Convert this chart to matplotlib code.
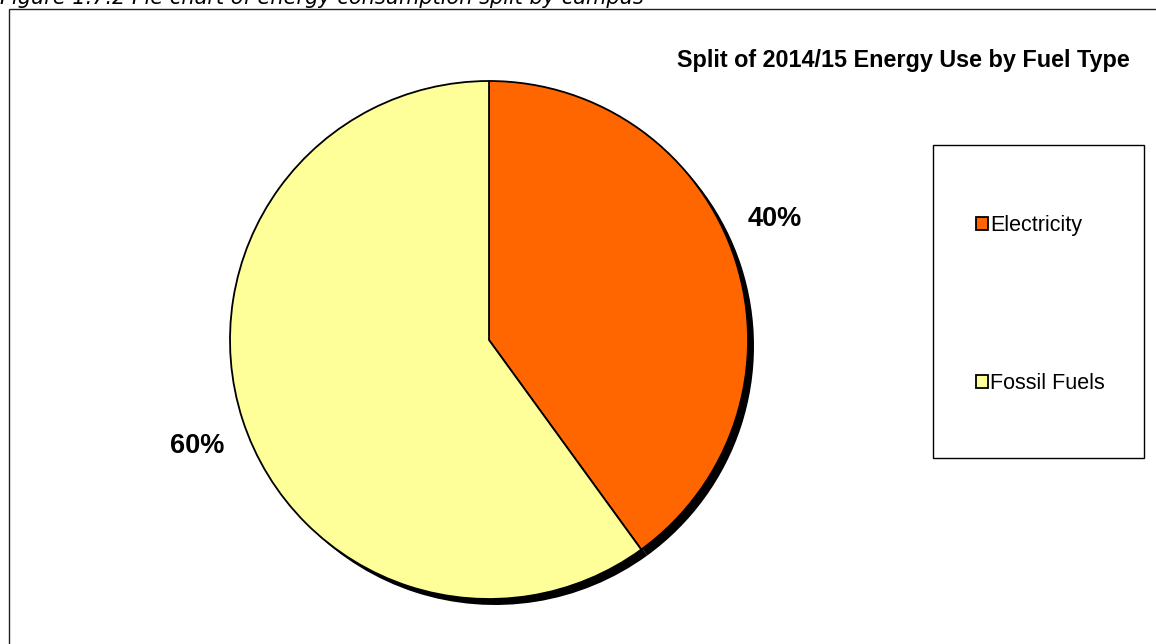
import matplotlib
matplotlib.use("Agg")
import matplotlib.pyplot as plt
from matplotlib.patches import Rectangle
from matplotlib.transforms import ScaledTranslation
import numpy as np

categories = ["Electricity", "Fossil Fuels"]
shares = [40, 60]
colors = ["#FF6600", "#FFFF99"]
title = "Split of 2014/15 Energy Use by Fuel Type"
caption = "Figure 1.7.2 Pie chart of energy consumption split by campus"

W, H = 1156, 644
fig = plt.figure(figsize=(W / 100, H / 100), dpi=100)
fig.patch.set_facecolor("white")

# outer chart frame
fig.patches.append(Rectangle((8.5 / W, -0.1), 1.2, 1 - 9 / H + 0.1, transform=fig.transFigure,
                             fill=False, edgecolor="#222222", linewidth=1.0))
fig.text(0.0, 1 - 4 / H, caption, family="DejaVu Sans", style="italic", fontsize=15,
         ha="left", va="baseline", color="black")

cx, cy, r = 489, 340, 259
ax = fig.add_axes([(cx - r) / W, (H - cy - r) / H, 2 * r / W, 2 * r / H])

# shadow
sh, _ = ax.pie(shares, colors=["black"] * 2, startangle=90, counterclock=False, radius=1,
               wedgeprops=dict(linewidth=0))
off = ScaledTranslation(6 / 100, -6 / 100, fig.dpi_scale_trans)
for w in sh:
    w.set_transform(ax.transData + off)

wedges, texts, autotexts = ax.pie(shares, colors=colors, startangle=90, counterclock=False,
                                  radius=1, autopct="%d%%", pctdistance=1.2,
                                  wedgeprops=dict(linewidth=1.3, edgecolor="black"),
                                  textprops=dict(family="Liberation Sans", fontweight="bold",
                                                 fontsize=19.5))
for t, a in zip(autotexts, (23, 200)):
    ang = np.deg2rad(a)
    t.set_position((1.2 * np.cos(ang), 1.2 * np.sin(ang)))
ax.set_xlim(-1, 1)
ax.set_ylim(-1, 1)
ax.set_aspect("auto")
ax.axis("off")

fig.text(1130 / W, 1 - 60 / H, title, family="Liberation Sans", fontweight="bold",
         fontsize=16.8, ha="right", va="center")

# legend box
lx0, ly0, lx1, ly1 = 933, 145, 1144, 458
fig.patches.append(Rectangle((lx0 / W, 1 - ly1 / H), (lx1 - lx0) / W, (ly1 - ly0) / H,
                             transform=fig.transFigure, fill=False, edgecolor="black",
                             linewidth=1.0))
leg = fig.legend(wedges, categories, loc="center left",
                 bbox_to_anchor=(965 / W, 1 - (226 + 383) / 2 / H), frameon=False,
                 prop=dict(family="Liberation Sans", size=15.5),
                 handlelength=0.55, handleheight=0.55, handletextpad=0.1, labelspacing=6.35,
                 borderpad=0)

fig.savefig("out.png", dpi=100, facecolor="white")
